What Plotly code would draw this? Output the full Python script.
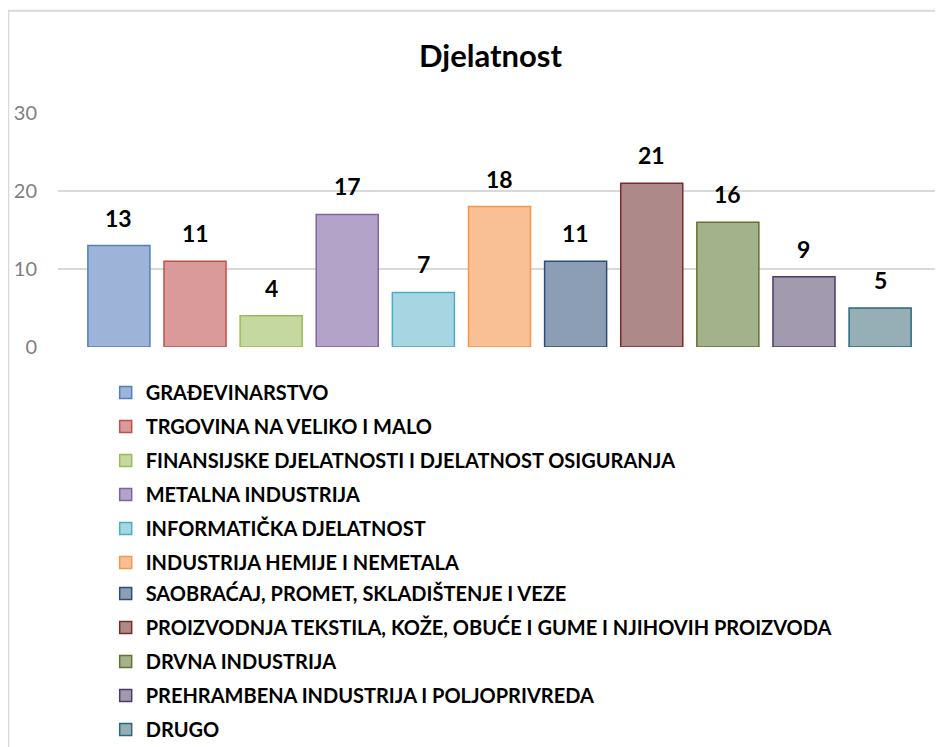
import plotly.graph_objects as go

categories = [
    "GRAĐEVINARSTVO",
    "TRGOVINA NA VELIKO I MALO",
    "FINANSIJSKE DJELATNOSTI I DJELATNOST OSIGURANJA",
    "METALNA INDUSTRIJA",
    "INFORMATIČKA DJELATNOST",
    "INDUSTRIJA HEMIJE I NEMETALA",
    "SAOBRAĆAJ, PROMET, SKLADIŠTENJE I VEZE",
    "PROIZVODNJA TEKSTILA, KOŽE, OBUĆE I GUME I NJIHOVIH PROIZVODA",
    "DRVNA INDUSTRIJA",
    "PREHRAMBENA INDUSTRIJA I POLJOPRIVREDA",
    "DRUGO",
]
values = [13, 11, 4, 17, 7, 18, 11, 21, 16, 9, 5]
fill_colors = ["#9DB3D8", "#D99A99", "#C5D8A0", "#B3A3C9", "#A7D6E2", "#F9C095",
               "#8C9DB6", "#AD8A89", "#A4B28C", "#A29BB0", "#96AFB7"]
line_colors = ["#4F81BD", "#C0504D", "#9BBB59", "#8064A2", "#4BACC6", "#F79646",
               "#2C4D75", "#772C2A", "#5F7530", "#4D3B62", "#276A7C"]
y_ticks = [0, 10, 20, 30]

FONT = "Lato, Open Sans, sans-serif"

fig = go.Figure()
for i, (c, v) in enumerate(zip(categories, values)):
    fig.add_trace(go.Bar(
        x=[i], y=[v], name=f"<b>{c}</b>", width=0.815,
        marker=dict(color=fill_colors[i], line=dict(color=line_colors[i], width=1.5)),
        legendgroup=f"g{i}",
        legend="legend" if i < 6 else "legend2",
    ))
    fig.add_annotation(x=i, y=v, text=f"<b>{v}</b>", showarrow=False,
                       yanchor="bottom", yshift=12,
                       font=dict(size=23, color="#000000", family=FONT))

fig.add_annotation(xref="paper", yref="paper", x=0.49, y=1.248, text="<b>Djelatnost</b>",
                   showarrow=False, xanchor="center", yanchor="middle",
                   font=dict(size=31, color="#000000", family=FONT))
fig.add_shape(type="rect", xref="paper", yref="paper", x0=-0.0563, x1=1.2, y0=-2.0, y1=1.437,
              line=dict(color="#D9D9D9", width=2), fillcolor="rgba(0,0,0,0)", layer="below")

leg_common = dict(xanchor="left", yanchor="top",
                  font=dict(size=20, color="#000000", family=FONT),
                  traceorder="grouped", tracegroupgap=5, itemwidth=30,
                  bgcolor="rgba(0,0,0,0)")

fig.update_layout(
    width=935, height=739,
    margin=dict(l=50, r=2, t=105, b=400, autoexpand=False),
    paper_bgcolor="white", plot_bgcolor="white",
    showlegend=True,
    legend=dict(x=0.054, y=-0.111, **leg_common),
    legend2=dict(x=0.054, y=-0.970, **leg_common),
    xaxis=dict(range=[-0.80, 10.80], showticklabels=False, showgrid=False,
               zeroline=False, showline=False, ticks=""),
    yaxis=dict(range=[0, 30], tickvals=y_ticks, showgrid=True, gridcolor="#D9D9D9",
               gridwidth=1.5, zeroline=False, showline=False, ticks="",
               ticklabelstandoff=20,
               tickfont=dict(size=20, color="#7F7F7F", family=FONT), automargin=False),
    font=dict(family=FONT),
)

fig.write_html("out.html")
